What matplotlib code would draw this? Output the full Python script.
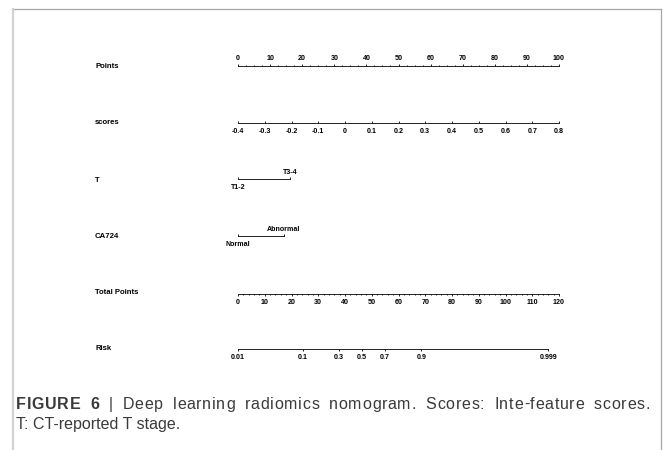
import matplotlib.pyplot as plt
from matplotlib.lines import Line2D
from matplotlib import font_manager
from matplotlib.ft2font import FT2Font
import numpy as np

plt.rcParams['font.family'] = ['Liberation Sans', 'DejaVu Sans']

# nomogram content
row_names = ['Points', 'scores', 'T', 'CA724', 'Total Points', 'Risk']
points_ticks = list(range(0, 101, 10))
scores_ticks = [-0.4, -0.3, -0.2, -0.1, 0, 0.1, 0.2, 0.3, 0.4, 0.5, 0.6, 0.7, 0.8]
scores_labels = ['-0.4', '-0.3', '-0.2', '-0.1', '0', '0.1', '0.2', '0.3',
                 '0.4', '0.5', '0.6', '0.7', '0.8']
t_levels = ['T1-2', 'T3-4']
t_points = [0, 16.2]
ca_levels = ['Normal', 'Abnormal']
ca_points = [0, 14.3]
total_ticks = list(range(0, 121, 10))
risk_ticks = [0.01, 0.1, 0.3, 0.5, 0.7, 0.9, 0.999]
risk_labels = ['0.01', '0.1', '0.3', '0.5', '0.7', '0.9', '0.999']
# logistic link: total points where risk = 0.5, and points per logit unit
tp_half = 44.3
tp_per_logit = 10.37

caption_bold = 'FIGURE 6 '
caption_line1 = '| Deep learning radiomics nomogram. Scores: Inte-feature scores.'
caption_line2 = 'T: CT-reported T stage.'

W, H = 663, 450
DPI = 100
fig = plt.figure(figsize=(W / DPI, H / DPI), dpi=DPI)

# layout (pixels)
x0, x1 = 238, 559
row_y = [66, 123, 179, 236, 294, 349]
label_y = [67, 123, 181, 237, 293, 348]
lw = 0.6
tick_fs = 5.1


def row_axes(y, top=False):
    h = 4
    yb = 1 - y / H
    if top:
        yb -= h / H
    ax = fig.add_axes([x0 / W, yb, (x1 - x0) / W, h / H])
    ax.set_facecolor('none')
    ax.set_yticks([])
    for s in ax.spines.values():
        s.set_visible(False)
        s.set_linewidth(lw)
    side = 'top' if top else 'bottom'
    ax.spines[side].set_visible(True)
    return ax


def style_ticks(ax, top=False, direction='in', pad=3.0):
    ax.tick_params(axis='x', which='major', length=1.6, width=lw,
                   direction=direction, pad=pad, labelsize=tick_fs,
                   top=top, bottom=not top, labeltop=top, labelbottom=not top)
    ax.tick_params(axis='x', which='minor', length=0.9, width=lw,
                   direction=direction, top=top, bottom=not top)
    for lab in ax.get_xticklabels():
        lab.set_fontweight('bold')


# Points
ax = row_axes(row_y[0], top=True)
ax.set_xlim(0, 100)
ax.set_xticks(points_ticks)
ax.set_xticks(np.arange(0, 100.1, 2.5), minor=True)
ax.set_xticklabels([str(v) for v in points_ticks])
style_ticks(ax, top=True, direction='out', pad=1.5)

# scores
ax = row_axes(row_y[1])
ax.set_xlim(scores_ticks[0], scores_ticks[-1])
ax.set_xticks(scores_ticks)
ax.set_xticklabels(scores_labels)
style_ticks(ax, direction='in', pad=3.8)

# categorical rows
for y, levels, pts in [(row_y[2], t_levels, t_points),
                       (row_y[3], ca_levels, ca_points)]:
    ax = row_axes(y)
    ax.set_xlim(0, 100)
    ax.spines['bottom'].set_bounds(pts[0], pts[-1])
    ax.set_xticks(pts)
    ax.tick_params(axis='x', length=1.6, width=lw, direction='in',
                   labelbottom=False)
    for i, (lev, p) in enumerate(zip(levels, pts)):
        off = -6 if i % 2 == 0 else 5
        ax.annotate(lev, xy=(p, 0), xycoords=('data', 'axes fraction'),
                    xytext=(0, off), textcoords='offset points',
                    ha='center', va='center', fontsize=tick_fs,
                    fontweight='bold')

# Total Points
ax = row_axes(row_y[4])
ax.set_xlim(0, 120)
ax.set_xticks(total_ticks)
ax.set_xticks(np.arange(0, 120.1, 2), minor=True)
ax.set_xticklabels([str(v) for v in total_ticks])
style_ticks(ax, direction='out', pad=1.8)

# Risk
risk_tp = [tp_half + tp_per_logit * np.log(p / (1 - p)) for p in risk_ticks]
ax = row_axes(row_y[5])
ax.set_xlim(0, 120)
ax.spines['bottom'].set_bounds(risk_tp[0], risk_tp[-1])
ax.set_xticks(risk_tp)
ax.set_xticklabels(risk_labels)
style_ticks(ax, direction='out', pad=1.8)

# row labels
for name, y in zip(row_names, label_y):
    fig.text(95 / W, 1 - y / H, name, fontsize=5.6, ha='left', va='center',
             fontweight='bold')

# frame around the figure panel
grey = '#a6a6a6'
fig.add_artist(Line2D([12 / W, 661 / W], [1 - 9 / H, 1 - 9 / H],
                      color=grey, lw=0.9))
fig.add_artist(Line2D([661 / W, 661 / W], [1 - 9 / H, 0],
                      color=grey, lw=0.9))
fig.add_artist(Line2D([12.5 / W, 12.5 / W], [1 - 9 / H, 0],
                      color='#d2d2d2', lw=1.6))

# caption: first line justified to the column width
cap_fs = 11.5
cap_col = '#3a3a3a'
cap_left, cap_right = 16, 650


def advances(s, weight):
    path = font_manager.findfont(
        font_manager.FontProperties(family='Liberation Sans', weight=weight))
    ft = FT2Font(path)
    ft.set_size(cap_fs, DPI)
    out = []
    for c in s:
        g = ft.load_char(ord(c))
        out.append(g.linearHoriAdvance / 65536)
    return out


chars = [(c, 'bold') for c in caption_bold] + \
        [(c, 'normal') for c in caption_line1]
adv = advances(caption_bold, 'bold') + advances(caption_line1, 'normal')
# extra space goes mostly to word gaps, a little to letter gaps
gap_w = [6.0 if c == ' ' else 1.0 for c, _ in chars[:-1]]
track = (cap_right - cap_left - sum(adv)) / sum(gap_w)
x = cap_left
for i, ((c, wt), a) in enumerate(zip(chars, adv)):
    if c != ' ':
        fig.text(x / W, 1 - 409 / H, c, fontsize=cap_fs, fontweight=wt,
                 color=cap_col, va='baseline', ha='left')
    if i < len(gap_w):
        x += a + track * gap_w[i]
fig.text(cap_left / W, 1 - 429 / H, caption_line2, fontsize=cap_fs,
         color=cap_col, va='baseline', ha='left')

fig.savefig('out.png', dpi=DPI)
